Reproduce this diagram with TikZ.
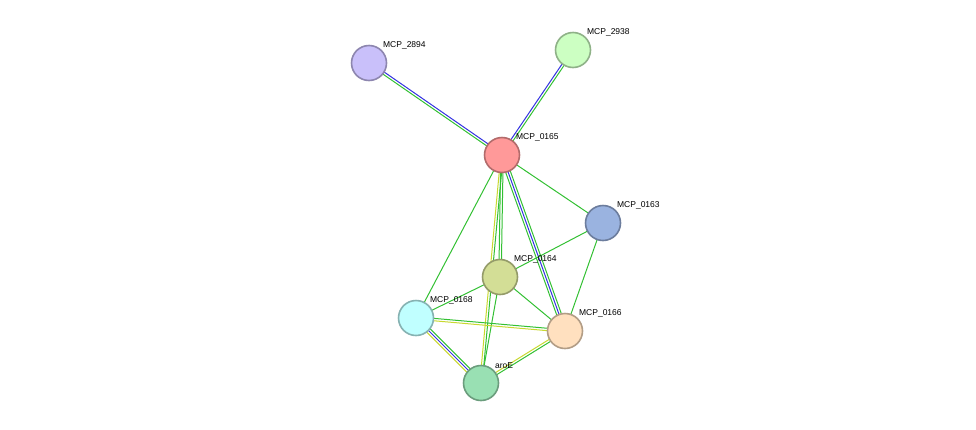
\documentclass[tikz,border=0pt]{standalone}
\usepackage{fontspec}
\setmainfont{Liberation Sans}
\usetikzlibrary{calc}

\tikzset{
  prot/.style={circle, draw=#1!70!black, fill=#1, line width=1.6pt, minimum size=35pt, inner sep=0pt},
  lab/.style={font=\fontsize{8.5}{10}\selectfont, inner sep=1pt},
}
\definecolor{cA}{HTML}{C9C0FA}
\definecolor{cB}{HTML}{CCFFC2}
\definecolor{cC}{HTML}{FF9999}
\definecolor{cD}{HTML}{9AB3E0}
\definecolor{cE}{HTML}{D3DE96}
\definecolor{cF}{HTML}{C0FFFF}
\definecolor{cG}{HTML}{FFE0BF}
\definecolor{cH}{HTML}{99E0B3}
\definecolor{eg}{HTML}{33C033}
\definecolor{eb}{HTML}{3333E0}
\definecolor{ey}{HTML}{C8D830}

% one coloured strand of an edge, shifted sideways by #3
\newcommand\strand[4]{\draw[#4, line width=1pt] ($(#1)!#3!90:(#2)$) -- ($(#2)!#3!-90:(#1)$);}

\begin{document}
\begin{tikzpicture}[x=1pt, y=-1pt]
\useasboundingbox (0,0) rectangle (976,429);

% positions
\coordinate (p2894) at (369,63);
\coordinate (p2938) at (573,50);
\coordinate (p0165) at (502,155);
\coordinate (p0163) at (603,223);
\coordinate (p0164) at (500,277);
\coordinate (p0168) at (416,318);
\coordinate (p0166) at (565,331);
\coordinate (paroE) at (481,383);

% edges
\strand{p0165}{p2894}{-1.2pt}{eb} \strand{p0165}{p2894}{1.2pt}{eg}
\strand{p0165}{p2938}{-1.2pt}{eg} \strand{p0165}{p2938}{1.2pt}{eb}
\strand{p0165}{p0163}{0pt}{eg}
\strand{p0165}{p0168}{0pt}{eg}
\strand{p0165}{p0164}{-1.2pt}{eg} \strand{p0165}{p0164}{1.2pt}{eg}
\strand{p0165}{paroE}{-1.2pt}{ey} \strand{p0165}{paroE}{1.2pt}{eg}
\strand{p0165}{p0166}{-2.4pt}{eg} \strand{p0165}{p0166}{0pt}{eb} \strand{p0165}{p0166}{2.4pt}{eg}
\strand{p0164}{p0163}{0pt}{eg}
\strand{p0164}{p0168}{0pt}{eg}
\strand{p0164}{p0166}{0pt}{eg}
\strand{p0164}{paroE}{0pt}{eg}
\strand{p0163}{p0166}{0pt}{eg}
\strand{p0168}{p0166}{-1.2pt}{ey} \strand{p0168}{p0166}{1.2pt}{eg}
\strand{p0168}{paroE}{-2.4pt}{ey} \strand{p0168}{paroE}{0pt}{eb} \strand{p0168}{paroE}{2.4pt}{eg}
\strand{p0166}{paroE}{-1.2pt}{ey} \strand{p0166}{paroE}{1.2pt}{eg}

% proteins
\node[prot=cA, label={[lab, anchor=south west]north east:MCP\_2894}] (n2894) at (p2894) {};
\node[prot=cB, label={[lab, anchor=south west]north east:MCP\_2938}] (n2938) at (p2938) {};
\node[prot=cC, label={[lab, anchor=south west]north east:MCP\_0165}] (n0165) at (p0165) {};
\node[prot=cD, label={[lab, anchor=south west]north east:MCP\_0163}] (n0163) at (p0163) {};
\node[prot=cE, label={[lab, anchor=south west]north east:MCP\_0164}] (n0164) at (p0164) {};
\node[prot=cF, label={[lab, anchor=south west]north east:MCP\_0168}] (n0168) at (p0168) {};
\node[prot=cG, label={[lab, anchor=south west]north east:MCP\_0166}] (n0166) at (p0166) {};
\node[prot=cH, label={[lab, anchor=south west]north east:aroE}] (naroE) at (paroE) {};
\end{tikzpicture}
\end{document}
